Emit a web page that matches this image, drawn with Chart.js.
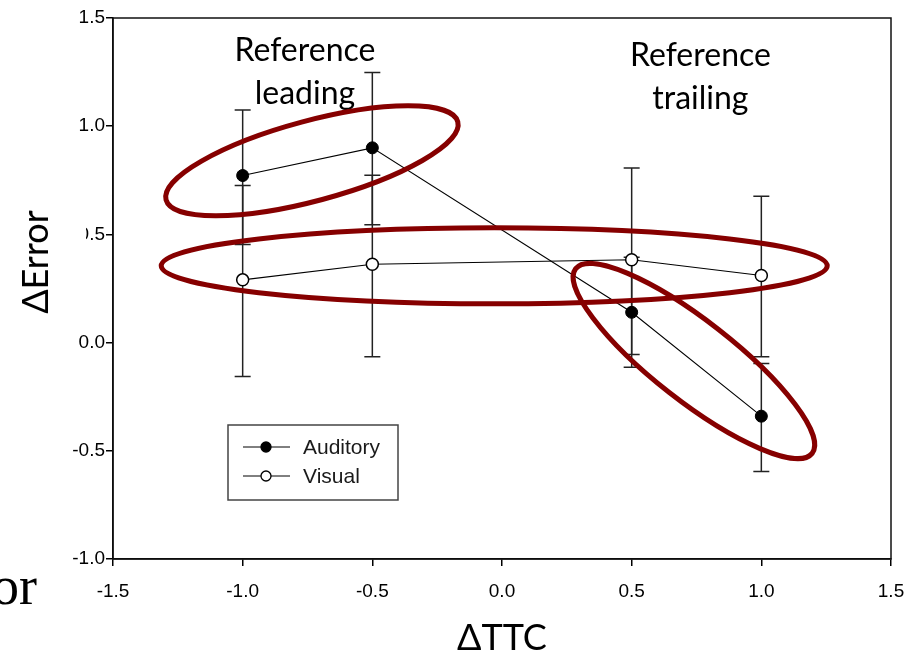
<!DOCTYPE html>
<html>
<head>
<meta charset="utf-8">
<script src="https://cdn.jsdelivr.net/npm/chart.js@4/dist/chart.umd.min.js"></script>
<style>
  html, body { margin: 0; padding: 0; background: #fff; }
  #wrap { width: 908px; height: 656px; }
</style>
</head>
<body>
<div id="wrap"><canvas id="c" width="908" height="656"></canvas></div>
<script>
// ΔTTC values and the two series
const ttc = [-1.0, -0.5, 0.5, 1.0];
const auditory = [0.772, 0.90, 0.14, -0.34];
const auditoryLow = [0.453, 0.545, -0.114, -0.596];
const auditoryHigh = [1.075, 1.248, 0.394, -0.097];
const visual = [0.29, 0.362, 0.383, 0.31];
const visualLow = [-0.157, -0.065, -0.055, -0.065];
const visualHigh = [0.726, 0.773, 0.807, 0.676];
const seriesNames = ['Auditory', 'Visual'];
const xTicks = [-1.5, -1.0, -0.5, 0.0, 0.5, 1.0, 1.5];
const yTicks = [-1.0, -0.5, 0.0, 0.5, 1.0, 1.5];

// red ellipses drawn over the plot (centre in data units)
const rings = [
  { cx: -0.733, cy: 0.84, rx: 151, ry: 40, rot: -15 },
  { cx: -0.03, cy: 0.355, rx: 333, ry: 38, rot: 0 },
  { cx: 0.74, cy: -0.085, rx: 150, ry: 40, rot: 38 },
];
const notes = [
  { x: -0.76, y: [1.35, 1.15], lines: ['Reference', 'leading'] },
  { x: 0.765, y: [1.325, 1.128], lines: ['Reference', 'trailing'] },
];

const tickFont = { family: '"Liberation Sans", Arial, sans-serif', size: 19 };
const titleFont = 'Lato, "Open Sans", sans-serif';

function pts(ys) {
  return ttc.map((x, i) => ({ x, y: ys[i] }));
}

const errorBars = {
  id: 'errorBars',
  beforeDatasetsDraw(chart) {
    const { ctx, scales } = chart;
    const sets = [[auditoryLow, auditoryHigh], [visualLow, visualHigh]];
    ctx.save();
    ctx.strokeStyle = '#222';
    ctx.lineWidth = 1.5;
    sets.forEach(([lo, hi]) => {
      ttc.forEach((x, i) => {
        const px = scales.x.getPixelForValue(x);
        const p1 = scales.y.getPixelForValue(lo[i]);
        const p2 = scales.y.getPixelForValue(hi[i]);
        ctx.beginPath();
        ctx.moveTo(px, p1); ctx.lineTo(px, p2);
        ctx.moveTo(px - 8, p1); ctx.lineTo(px + 8, p1);
        ctx.moveTo(px - 8, p2); ctx.lineTo(px + 8, p2);
        ctx.stroke();
      });
    });
    ctx.restore();
  },
};

const decor = {
  id: 'decor',
  afterDraw(chart) {
    const { ctx, chartArea: a, scales } = chart;
    ctx.save();
    // frame
    ctx.strokeStyle = '#111';
    ctx.lineWidth = 1.5;
    ctx.strokeRect(a.left, a.top, a.right - a.left, a.bottom - a.top);

    // legend box
    const lx = 228, ly = 425;
    ctx.strokeStyle = '#444';
    ctx.lineWidth = 1.5;
    ctx.strokeRect(lx, ly, 170, 75);
    ctx.font = '21px "Liberation Sans", Arial, sans-serif';
    ctx.textBaseline = 'middle';
    seriesNames.forEach((name, i) => {
      const yy = ly + 22 + i * 29;
      ctx.strokeStyle = '#000';
      ctx.lineWidth = 1;
      ctx.beginPath();
      ctx.moveTo(lx + 15, yy); ctx.lineTo(lx + 62, yy);
      ctx.stroke();
      ctx.beginPath();
      ctx.arc(lx + 38, yy, 5, 0, Math.PI * 2);
      ctx.fillStyle = i === 0 ? '#000' : '#fff';
      ctx.fill();
      ctx.lineWidth = 1.3;
      ctx.stroke();
      ctx.fillStyle = '#1a1a1a';
      ctx.textAlign = 'left';
      ctx.fillText(name, lx + 75, yy + 1);
    });

    // annotation text on white
    ctx.font = '32px ' + titleFont;
    ctx.textAlign = 'center';
    notes.forEach((n) => {
      const px = scales.x.getPixelForValue(n.x);
      n.lines.forEach((t, j) => {
        const py = scales.y.getPixelForValue(n.y[j]);
        const w = ctx.measureText(t).width;
        ctx.fillStyle = '#fff';
        ctx.fillRect(px - w / 2 - 3, py - 19, w + 6, 38);
        ctx.fillStyle = '#000';
        ctx.fillText(t, px, py);
      });
    });

    // rings
    ctx.strokeStyle = '#860000';
    ctx.lineWidth = 5;
    rings.forEach((r) => {
      ctx.beginPath();
      ctx.ellipse(scales.x.getPixelForValue(r.cx), scales.y.getPixelForValue(r.cy),
        r.rx, r.ry, (r.rot * Math.PI) / 180, 0, Math.PI * 2);
      ctx.stroke();
    });

    // axis titles (y title box hides most of the "0" in 0.5, as in the source)
    ctx.fillStyle = '#000';
    ctx.font = '36px ' + titleFont;
    ctx.textAlign = 'center';
    ctx.fillText('\u0394TTC', (a.left + a.right) / 2, 638);
    ctx.save();
    ctx.translate(36, 262);
    ctx.rotate(-Math.PI / 2);
    ctx.fillStyle = '#fff';
    ctx.fillRect(-72, -24, 144, 74);
    ctx.fillStyle = '#000';
    ctx.fillText('\u0394Error', 0, 0);
    ctx.restore();

    // stray slide text at bottom left
    ctx.font = '54px "Liberation Serif", "Times New Roman", serif';
    ctx.textAlign = 'left';
    ctx.textBaseline = 'alphabetic';
    ctx.fillText('or', -8, 604);
    ctx.restore();
  },
};

new Chart(document.getElementById('c'), {
  type: 'line',
  data: {
    datasets: [
      {
        label: seriesNames[0],
        data: pts(auditory),
        borderColor: '#000',
        borderWidth: 1.1,
        pointRadius: 6,
        pointBackgroundColor: '#000',
        pointBorderColor: '#000',
        pointBorderWidth: 1,
      },
      {
        label: seriesNames[1],
        data: pts(visual),
        borderColor: '#000',
        borderWidth: 1.1,
        pointRadius: 6,
        pointBackgroundColor: '#fff',
        pointBorderColor: '#000',
        pointBorderWidth: 1.5,
      },
    ],
  },
  options: {
    responsive: false,
    animation: false,
    layout: { padding: { top: 18, right: 17, left: 0, bottom: 0 } },
    plugins: { legend: { display: false }, tooltip: { enabled: false } },
    scales: {
      x: {
        type: 'linear',
        min: xTicks[0],
        max: xTicks[xTicks.length - 1],
        afterBuildTicks: (s) => { s.ticks = xTicks.map((v) => ({ value: v })); },
        afterFit: (s) => { s.height = 97; s.paddingLeft = 0; s.paddingRight = 0; },
        ticks: { font: tickFont, color: '#000', padding: 14, maxRotation: 0, callback: (v) => v.toFixed(1) },
        grid: { drawOnChartArea: false, tickLength: 7, color: '#000', lineWidth: 1.5 },
        border: { color: '#000', width: 1.5 },
      },
      y: {
        min: yTicks[0],
        max: yTicks[yTicks.length - 1],
        afterBuildTicks: (s) => { s.ticks = yTicks.map((v) => ({ value: v })); },
        afterFit: (s) => { s.width = 113; s.paddingTop = 0; s.paddingBottom = 0; },
        ticks: { font: tickFont, color: '#000', padding: 1, callback: (v) => v.toFixed(1) },
        grid: { drawOnChartArea: false, tickLength: 7, color: '#000', lineWidth: 1.5 },
        border: { color: '#000', width: 1.5 },
      },
    },
  },
  plugins: [errorBars, decor],
});
</script>
</body>
</html>
